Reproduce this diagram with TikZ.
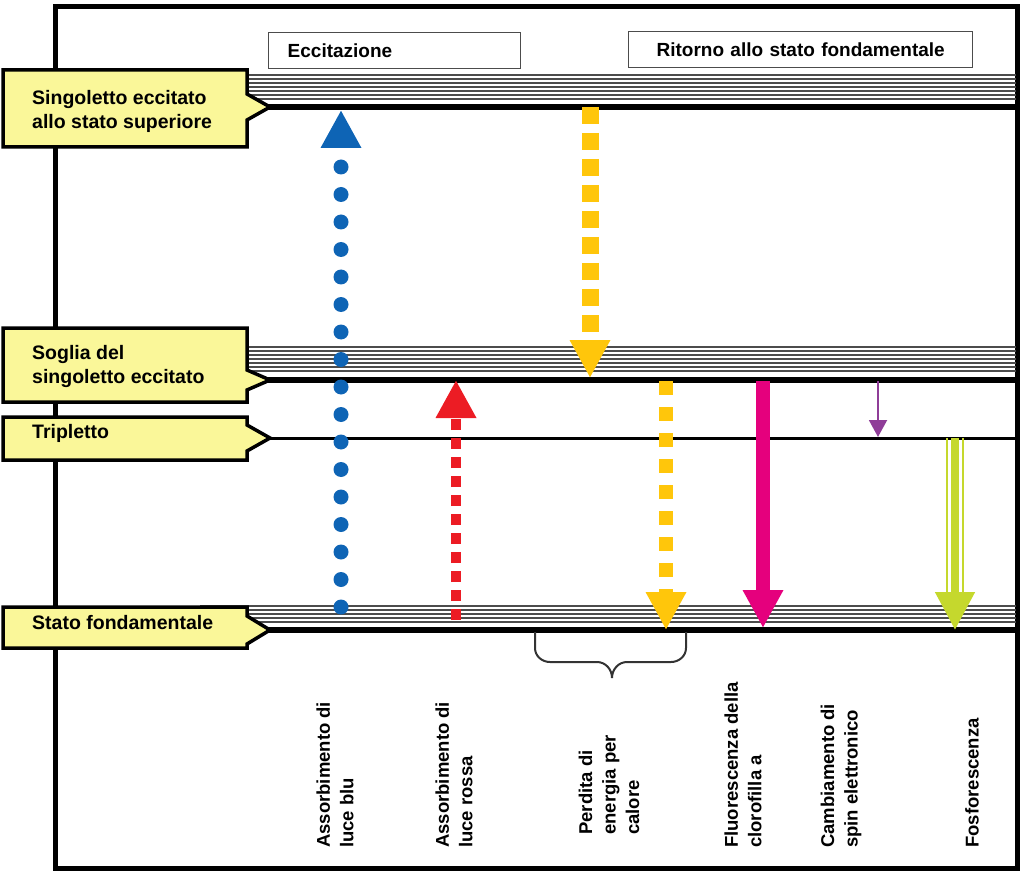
\documentclass[tikz,border=0pt]{standalone}
\usepackage{fontspec}
\setmainfont{Liberation Sans}
\usetikzlibrary{arrows.meta}

\definecolor{blu}{RGB}{14,100,181}
\definecolor{rosso}{RGB}{236,28,36}
\definecolor{giallo}{RGB}{255,198,11}
\definecolor{fucsia}{RGB}{229,0,125}
\definecolor{viola}{RGB}{143,61,152}
\definecolor{verde}{RGB}{197,216,45}
\definecolor{giallino}{RGB}{250,247,153}

\newcommand{\drawband}[3]{% first thin line, number of thin lines, level line
  \foreach \k in {1,...,#2}
    \draw[band] (200,#1+\k*4-4) -- (1016,#1+\k*4-4);
  \draw[level] (200,#3) -- (1016,#3);
}
\newcommand{\labelbox}[4]{% top, bottom, tip, half notch
  \draw[callout] (3,#1) -- (247,#1) -- (247,#3-#4) -- (270,#3) -- (247,#3+#4) -- (247,#2) -- (3,#2) -- cycle;
}

\begin{document}
\begin{tikzpicture}[x=1pt,y=-1pt,
    band/.style={black!70, line width=1.8},
    level/.style={black, line width=5.5},
    callout/.style={draw=black, line width=3.5, fill=giallino},
    lbl/.style={font=\bfseries\fontsize{19.5}{24}\selectfont, align=left, anchor=west, inner sep=0},
    hdr/.style={draw=black!70, line width=1.4, minimum height=36pt, inner xsep=19pt, inner ysep=0pt,
      anchor=north west, font=\bfseries\fontsize{19}{22}\selectfont},
    vlbl/.style={rotate=90, anchor=west, inner sep=0, align=left, font=\bfseries\fontsize{18.5}{23.5}\selectfont},
    head/.style={-{Triangle[width=38pt,length=38pt]}}]
  \useasboundingbox (0,0) rectangle (1024,874);

  %%%%% frame and headers %%%%%
  \draw[line width=5] (55,7) rectangle (1017,868);
  \node[hdr, text width=214pt, align=left] (ecc) at (268,32) {Eccitazione};
  \node[hdr, text width=306pt, align=center] (rit) at (628,31) {Ritorno allo stato fondamentale};

  %%%%% energy levels %%%%%
  \drawband{75}{7}{107}
  \drawband{347}{7}{380}
  \drawband{606}{5}{630}
  \draw[line width=3] (200,438) -- (1016,438);

  %%%%% end points %%%%%
  \coordinate (blu-a) at (341,607);  \coordinate (blu-b) at (341,110);
  \coordinate (ros-a) at (456,620);  \coordinate (ros-b) at (456,380);
  \coordinate (cal1-a) at (590,107); \coordinate (cal1-b) at (590,378);
  \coordinate (cal2-a) at (666,381); \coordinate (cal2-b) at (666,630);
  \coordinate (flu-a) at (763,381);  \coordinate (flu-b) at (763,628);
  \coordinate (spin-a) at (878,381); \coordinate (spin-b) at (878,437);
  \coordinate (fos-a) at (955,438);  \coordinate (fos-b) at (955,630);

  %%%%% transitions %%%%%
  \draw[blu, line width=15, line cap=round, dash pattern=on 0pt off 27.5pt, head] (blu-a) -- (blu-b);
  \draw[rosso, line width=10, dash pattern=on 11pt off 8pt, head] (ros-a) -- (ros-b);
  \draw[giallo, line width=17, dash pattern=on 17pt off 9pt, head] (cal1-a) -- (cal1-b);
  \draw[giallo, line width=14, dash pattern=on 14pt off 12pt, head] (cal2-a) -- (cal2-b);
  \draw[fucsia, line width=14, head] (flu-a) -- (flu-b);
  \draw[viola, line width=2, -{Triangle[width=18pt,length=17pt]}] (spin-a) -- (spin-b);
  \draw[verde, line width=8, head] (fos-a) -- (fos-b);
  \draw[verde, line width=2] ([xshift=-8pt]fos-a) -- ([xshift=-8pt,yshift=38pt]fos-b);
  \draw[verde, line width=2] ([xshift=8pt]fos-a) -- ([xshift=8pt,yshift=38pt]fos-b);

  %%%%% callouts %%%%%
  \labelbox{70}{147}{107}{13}
  \labelbox{328}{402}{380}{10}
  \labelbox{417}{460}{438}{13}
  \labelbox{607}{648}{630}{14}
  \node[lbl] (sup) at (32,111) {Singoletto eccitato\\allo stato superiore};
  \node[lbl] (sog) at (32,366) {Soglia del\\singoletto eccitato};
  \node[lbl] (tri) at (32,433) {Tripletto};
  \node[lbl] (fond) at (32,623) {Stato fondamentale};

  %%%%% brace %%%%%
  \draw[black!80, line width=2] (535,632) -- (535,648) to[out=-90,in=180] (550,662) -- (597,662)
    to[out=0,in=90] (612,678) to[out=90,in=180] (627,662) -- (671,662) to[out=0,in=-90] (686,648) -- (686,632);

  %%%%% bottom labels %%%%%
  \node[vlbl] (l-blu) at (335,848) {Assorbimento di\\luce blu};
  \node[vlbl] (l-ros) at (454,848) {Assorbimento di\\luce rossa};
  \node[vlbl] (l-cal) at (609,835) {Perdita di\\energia per\\calore};
  \node[vlbl] (l-flu) at (743,848) {Fluorescenza della\\clorofilla a};
  \node[vlbl] (l-spin) at (841,848) {Cambiamento di\\spin elettronico};
  \node[vlbl] (l-fos) at (972,848) {Fosforescenza};
\end{tikzpicture}
\end{document}
